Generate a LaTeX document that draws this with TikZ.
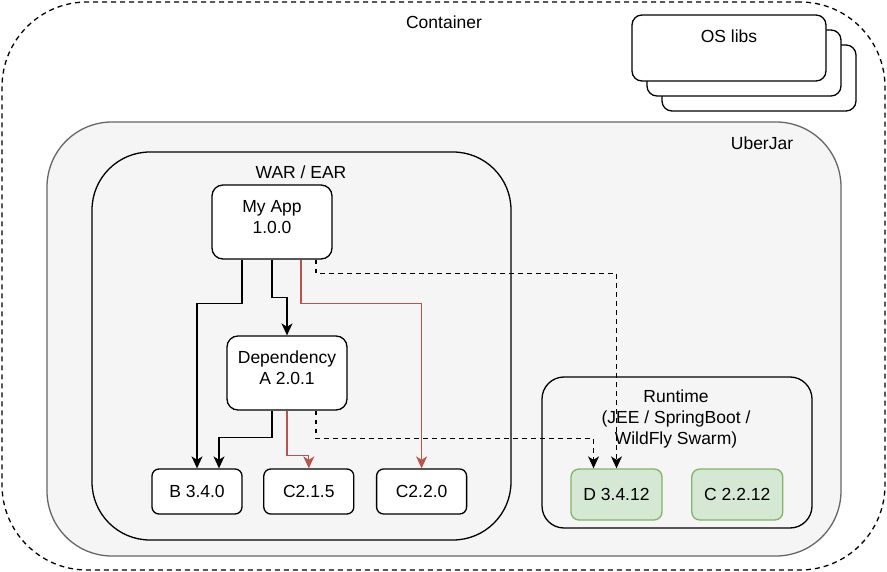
\documentclass[tikz,border=0pt]{standalone}
\usepackage{fontspec}
\setmainfont{Liberation Sans}
\usetikzlibrary{calc,positioning,shapes}
\usetikzlibrary{arrows.meta}
\definecolor{uberfill}{HTML}{F5F5F5}
\definecolor{uberline}{HTML}{666666}
\definecolor{depred}{HTML}{B85450}
\definecolor{rtfill}{HTML}{D5E8D4}
\definecolor{rtline}{HTML}{82B366}
\tikzset{>={Stealth[length=12pt,width=11pt,inset=3.5pt]}}
\tikzset{frame/.style = {draw, rectangle, inner sep=0pt},
        appbox/.style = {draw, fill=white, rectangle, rounded corners=11pt,
                  minimum width=120pt, minimum height=74pt, align=center,
                  inner sep=0pt, text depth=10pt},
        libbox/.style = {draw, fill=white, rectangle, rounded corners=7pt,
                  minimum width=90pt, minimum height=45pt, inner sep=0pt},
        rtbox/.style = {draw=rtline, fill=rtfill, rectangle, rounded corners=8pt,
                  minimum width=91pt, minimum height=51pt, inner sep=0pt},
        osbox/.style = {draw, fill=white, rectangle, rounded corners=10pt,
                  minimum width=194pt, minimum height=66pt, inner sep=0pt}
    }

\begin{document}
\begin{tikzpicture}[x=1pt, y=-1pt, line width=1.3pt, font=\fontsize{17.5}{21}\selectfont]
    \tikzstyle{lbl} = [inner sep=0pt, align=center]
    \tikzstyle{dep} = [->]
    \tikzstyle{conflict} = [->, color=depred]
    \tikzstyle{provided} = [->, dash pattern=on 4.5pt off 4.5pt]

    \fill[white] (0,0) rectangle (887,572);
    \useasboundingbox (0,0) rectangle (887,572);

    % outer frames
    \node[frame, dash pattern=on 5pt off 4pt, rounded corners=85pt,
          minimum width=883pt, minimum height=568pt] (container) at (443.5,286) {};
    \node[lbl] (containerlbl) at (444,22) {Container};

    \node[osbox] (os3) at (759,78) {};
    \node[osbox] (os2) at (744,63) {};
    \node[osbox] (os1) at (729,48) {};
    \node[lbl] (oslbl) at (729,36) {OS libs};

    \node[frame, draw=uberline, fill=uberfill, rounded corners=65pt,
          minimum width=794pt, minimum height=434pt] (uberjar) at (444,339) {};
    \node[lbl] (uberlbl) at (762,143) {UberJar};

    \node[frame, fill=uberfill, rounded corners=58pt,
          minimum width=419pt, minimum height=388pt] (war) at (301.5,346) {};
    \node[lbl] (warlbl) at (301,172) {WAR / EAR};

    \node[frame, fill=uberfill, rounded corners=22pt,
          minimum width=270pt, minimum height=151pt] (runtime) at (677,452.5) {};
    \node[lbl] (rtlbl) at (676,419) {Runtime\\(JEE / SpringBoot /\\WildFly Swarm)};

    % artifacts
    \node[appbox] (myapp) at (272,222) {My App\\1.0.0};
    \node[appbox] (depa) at (287,373) {Dependency\\A 2.0.1};
    \node[libbox] (b340) at (197,491.5) {B 3.4.0};
    \node[libbox, right=20.5pt of b340] (c215) {C2.1.5};
    \node[libbox, right=21.5pt of c215] (c220) {C2.2.0};
    \node[rtbox] (d3412) at (616.5,494.5) {D 3.4.12};
    \node[rtbox, right=28.5pt of d3412] (c2212) {C 2.2.12};

    % dependencies
    \draw[dep] ([xshift=-30pt]myapp.south) -- ++(0,44) -| (b340.north);
    \draw[dep] (myapp.south) -- ++(0,38) -| (depa.north);
    \draw[conflict] ([xshift=29pt]myapp.south) -- ++(0,44) -| (c220.north);
    \draw[provided] ([xshift=44pt]myapp.south) -- ++(0,14) -| (d3412.north);

    \draw[dep] ([xshift=-15pt]depa.south) -- ++(0,27) -| ([xshift=22pt]b340.north);
    \draw[conflict] (depa.south) -- ++(0,45) -| (c215.north);
    \draw[provided] ([xshift=29pt]depa.south) -- ++(0,28) -| ([xshift=-23pt]d3412.north);
\end{tikzpicture}
\end{document}
